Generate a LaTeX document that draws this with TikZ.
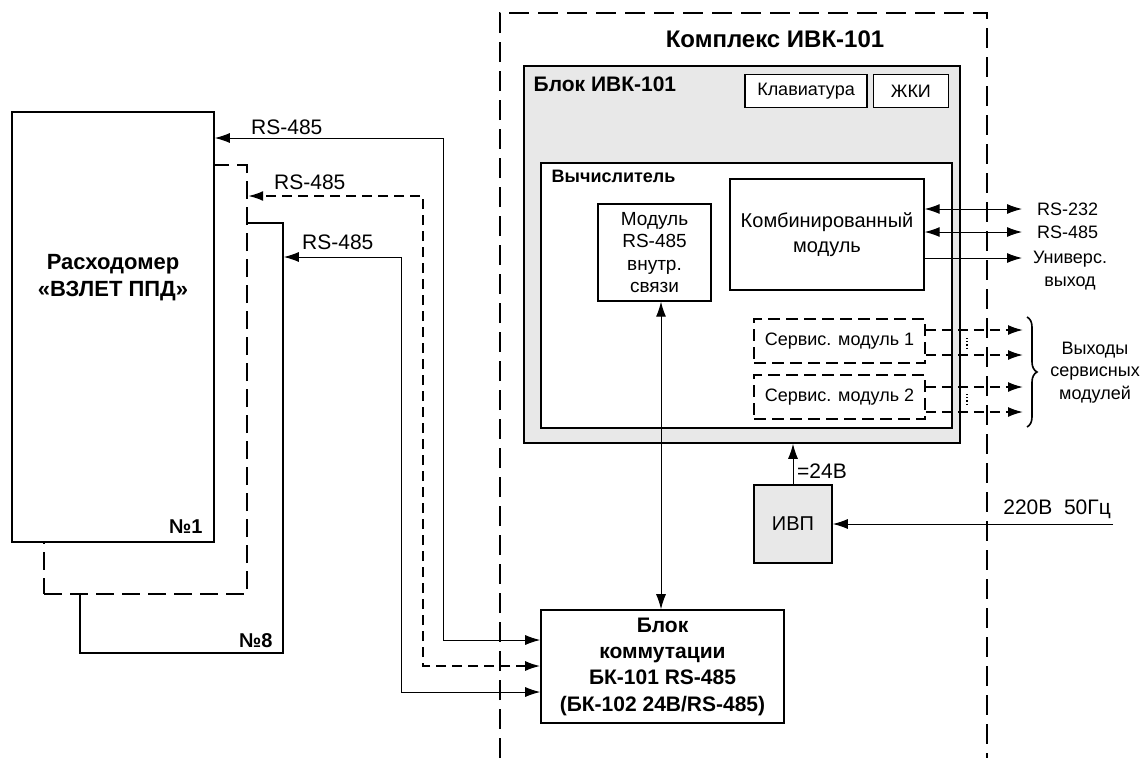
\documentclass[tikz,border=0pt]{standalone}
\usepackage{fontspec}
\setmainfont{Liberation Sans}
\usepackage{tikz}
\usetikzlibrary{positioning}
\usetikzlibrary{arrows.meta,decorations.pathreplacing}
\tikzstyle{box} = [rectangle,draw,line width=1.6pt,fill=white,inner sep=0pt,align=center]
\tikzstyle{arrow} = [line width=1pt,-{Latex[length=15pt,width=10pt]}]
\tikzstyle{dbl} = [line width=1pt,{Latex[length=15pt,width=10pt]}-{Latex[length=15pt,width=10pt]}]
\tikzstyle{dashline} = [line width=1.8pt,dash pattern=on 10pt off 6pt]
\tikzstyle{cplx} = [line width=2pt,dash pattern=on 20pt off 9pt]
\newcommand{\txt}{\fontsize{18}{22.5}\selectfont}
\newcommand{\lbl}{\fontsize{21}{25}\selectfont}

\begin{document}
\begin{tikzpicture}[x=1pt,y=-1pt]
		\useasboundingbox (0,0) rectangle (1148,758);
		% flowmeters
		\node[box,minimum width=203pt,minimum height=430pt] (flow8) at (181.5,438) {};
		\node[box,line width=2.4pt,dash pattern=on 18pt off 8pt,minimum width=203pt,minimum height=429pt] (flow2) at (145.5,379.5) {};
		\node[box,minimum width=202pt,minimum height=430pt] (flow1) at (113,327) {};
		\node[align=center,font=\fontsize{22}{27}\selectfont\bfseries] (flowT) at (113,278) {Расходомер\\«ВЗЛЕТ ППД»};
		\node[anchor=south east,inner sep=0pt,font=\fontsize{20}{24}\selectfont\bfseries] (n1) at ([xshift=-12pt,yshift=9pt]flow1.south east) {№1};
		\node[anchor=south east,inner sep=0pt,font=\fontsize{20}{24}\selectfont\bfseries] (n8) at ([xshift=-11pt,yshift=6pt]flow8.south east) {№8};
		% complex
		\draw[cplx] (500,758) -- (500,13) -- (987,13) -- (987,758);
		\node[font=\fontsize{24}{28}\selectfont\bfseries] (cplxT) at (775,39) {Комплекс ИВК-101};
		\node[box,fill=gray!18,minimum width=436pt,minimum height=377pt] (ivk) at (742,254.5) {};
		\node[anchor=west,font=\fontsize{21}{25}\selectfont\bfseries] (ivkT) at ([xshift=7pt,yshift=-19pt]ivk.north west) {Блок ИВК-101};
		\node[box,line width=1.4pt,minimum width=122pt,minimum height=33pt,font=\txt] (klav) at (806,91) {Клавиатура};
		\node[box,line width=1.4pt,minimum width=75pt,minimum height=33pt,font=\txt,right=5pt of klav] (lcd) {ЖКИ};
		\node[box,minimum width=411pt,minimum height=265pt] (vych) at (746.5,295.5) {};
		\node[anchor=west,font=\fontsize{18}{22}\selectfont\bfseries] (vychT) at ([xshift=8pt,yshift=-14pt]vych.north west) {Вычислитель};
		\node[box,line width=1.4pt,minimum width=113pt,minimum height=97pt,font=\fontsize{19}{22.5}\selectfont] (mod485) at (654.5,252.5) {Модуль\\RS-485\\внутр.\\связи};
		\node[box,line width=1.4pt,minimum width=194pt,minimum height=111pt,font=\fontsize{20}{25}\selectfont] (kombi) at (827,234.5) {Комбинированный\\модуль};
		\node[box,line width=1.8pt,dash pattern=on 12pt off 6pt,minimum width=171pt,minimum height=44pt,font=\txt] (serv1) at (839.5,341) {Сервис. модуль 1};
		\node[box,line width=1.8pt,dash pattern=on 12pt off 6pt,minimum width=171pt,minimum height=44pt,font=\txt] (serv2) at (839.5,397) {Сервис. модуль 2};
		\node[box,fill=gray!18,minimum width=78pt,minimum height=78pt,font=\fontsize{20}{24}\selectfont] (ivp) at (793,524) {ИВП};
		\node[box,minimum width=243pt,minimum height=113pt,font=\fontsize{21}{26.3}\selectfont\bfseries] (bk) at (662.5,666.5) {Блок\\коммутации\\БК-101 RS-485\\(БК-102 24В/RS-485)};
		% RS-485 lines
		\draw[dbl] (bk.west |- 0,640) -| (443,138) -- (flow1.east |- 0,138);
		\draw[dbl,dashline] (bk.west |- 0,666) -| (423,196) -- (flow2.east |- 0,196);
		\draw[dbl] (bk.west |- 0,692) -| (401,257) -- (flow8.east |- 0,257);
		\node[anchor=west,inner sep=0pt,font=\lbl] (l1) at (251,127) {RS-485};
		\node[anchor=west,inner sep=0pt,font=\lbl] (l2) at (274,182) {RS-485};
		\node[anchor=west,inner sep=0pt,font=\lbl] (l3) at (302,242) {RS-485};
		\draw[dbl] (mod485.south -| 661,0) -- (bk.north -| 661,0);
		% outputs
		\coordinate (o232) at (1022,209);
		\coordinate (o485) at (1022,232);
		\coordinate (ouni) at (1022,258);
		\draw[dbl] (kombi.east |- o232) -- (o232);
		\draw[dbl] (kombi.east |- o485) -- (o485);
		\draw[arrow] (kombi.east |- ouni) -- (ouni);
		\node[right=15pt of o232,inner sep=0pt,font=\txt] (t232) {RS-232};
		\node[right=15pt of o485,inner sep=0pt,font=\txt] (t485) {RS-485};
		\node[align=center,font=\txt] (tuni) at (1070,270.5) {Универс.\\выход};
		\coordinate (s1a) at (1023,330);
		\coordinate (s1b) at (1023,355);
		\coordinate (s2a) at (1023,387);
		\coordinate (s2b) at (1023,412);
		\draw[arrow,dashline] (serv1.east |- s1a) -- (s1a);
		\draw[arrow,dashline] (serv1.east |- s1b) -- (s1b);
		\draw[arrow,dashline] (serv2.east |- s2a) -- (s2a);
		\draw[arrow,dashline] (serv2.east |- s2b) -- (s2b);
		\draw[line width=1.2pt,dotted] (967,338) -- (967,349);
		\draw[line width=1.2pt,dotted] (967,394) -- (967,405);
		\draw[line width=1.6pt,decorate,decoration={brace,amplitude=10pt}] (1027,317) -- (1027,427);
		\node[align=center,font=\txt] (tserv) at (1095,372.5) {Выходы\\сервисных\\модулей};
		% power
		\draw[arrow] (ivp.north) -- (ivp.north |- ivk.south);
		\node[anchor=west,inner sep=0pt,font=\lbl] (t24) at (797,471) {=24В};
		\coordinate (mains) at (1113,524);
		\draw[arrow] (mains) -- (ivp.east);
		\node[anchor=east,inner sep=0pt,font=\lbl] (t220) at (1111,509) {220В\ \ 50Гц};
\end{tikzpicture}
\end{document}
